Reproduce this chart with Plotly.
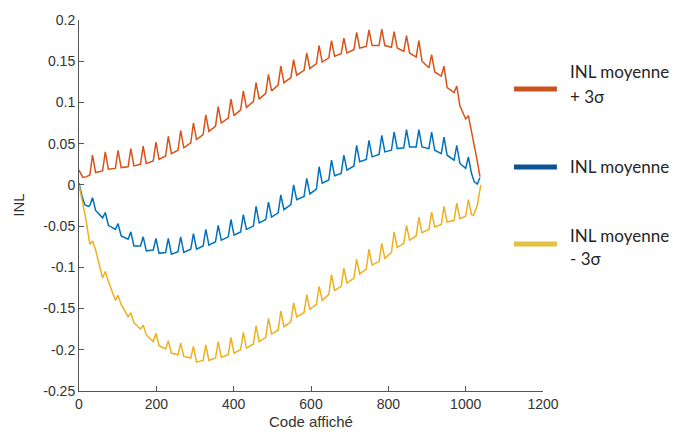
import plotly.graph_objects as go

# ---- data ----
PEAK_X = [35, 68, 101, 134, 166, 199, 231, 263, 296, 328, 360, 393, 425, 458, 490,
          522, 555, 589, 621, 653, 685, 718, 750, 783, 815, 847, 879, 912, 944, 977, 1007]

# INL moyenne + 3 sigma (orange)
UP_HEAD_X = [0, 10, 20]
UP_HEAD_Y = [0.018, 0.009, 0.010]
UP_PRE = [0.012, 0.017, 0.020, 0.022, 0.025, 0.029, 0.035, 0.042, 0.051, 0.061, 0.071,
          0.081, 0.091, 0.101, 0.111, 0.121, 0.130, 0.139, 0.147, 0.154, 0.159, 0.164,
          0.168, 0.169, 0.167, 0.162, 0.155, 0.142, 0.132, 0.112, 0.080]
UP_HI = [0.036, 0.040, 0.042, 0.044, 0.047, 0.052, 0.059, 0.066, 0.075, 0.085, 0.095,
         0.104, 0.114, 0.124, 0.134, 0.144, 0.152, 0.160, 0.169, 0.175, 0.178, 0.185,
         0.188, 0.189, 0.186, 0.181, 0.175, 0.158, 0.144, 0.120, 0.084]
UP_LO = [0.015, 0.019, 0.021, 0.023, 0.026, 0.031, 0.038, 0.045, 0.055, 0.065, 0.075,
         0.084, 0.094, 0.104, 0.114, 0.124, 0.133, 0.141, 0.149, 0.156, 0.160, 0.166,
         0.169, 0.169, 0.166, 0.160, 0.150, 0.137, 0.118, 0.096, 0.066]
UP_TAIL_X = [1028, 1037]
UP_TAIL_Y = [0.034, 0.010]

# INL moyenne (blue)
MID_HEAD_X = [0, 8, 15, 24]
MID_HEAD_Y = [0.002, -0.014, -0.024, -0.026]
MID_PRE = [-0.025, -0.040, -0.054, -0.066, -0.074, -0.079, -0.082, -0.081, -0.078, -0.074,
           -0.069, -0.063, -0.057, -0.050, -0.042, -0.034, -0.024, -0.014, -0.005, 0.006,
           0.014, 0.023, 0.031, 0.037, 0.042, 0.045, 0.046, 0.044, 0.038, 0.030, 0.020]
MID_HI = [-0.0155, -0.0335, -0.047, -0.057, -0.063, -0.065, -0.065, -0.063, -0.059, -0.054,
          -0.049, -0.042, -0.036, -0.026, -0.021, -0.012, 0.000, 0.008, 0.022, 0.030,
          0.036, 0.048, 0.054, 0.060, 0.064, 0.067, 0.067, 0.064, 0.058, 0.048, 0.034]
MID_LO = [-0.031, -0.049, -0.062, -0.074, -0.080, -0.083, -0.084, -0.082, -0.078, -0.073,
          -0.067, -0.061, -0.054, -0.046, -0.039, -0.030, -0.018, -0.011, 0.002, 0.011,
          0.018, 0.028, 0.034, 0.040, 0.044, 0.046, 0.046, 0.042, 0.036, 0.026, 0.014]
MID_TAIL_X = [1022, 1030, 1037]
MID_TAIL_Y = [0.004, 0.001, 0.009]

# INL moyenne - 3 sigma (yellow)
LOW_HEAD_X = [0, 8, 18]
LOW_HEAD_Y = [0.000, -0.020, -0.042]
LOW_PRE = [-0.072, -0.113, -0.140, -0.160, -0.175, -0.190, -0.199, -0.206, -0.210, -0.213,
           -0.210, -0.206, -0.200, -0.193, -0.185, -0.176, -0.166, -0.155, -0.145, -0.133,
           -0.123, -0.113, -0.102, -0.093, -0.082, -0.071, -0.062, -0.054, -0.048, -0.043,
           -0.038]
LOW_HI = [-0.068, -0.105, -0.134, -0.155, -0.170, -0.180, -0.189, -0.192, -0.196, -0.194,
          -0.190, -0.185, -0.179, -0.171, -0.162, -0.153, -0.143, -0.133, -0.123, -0.109,
          -0.101, -0.090, -0.078, -0.071, -0.057, -0.049, -0.039, -0.033, -0.026, -0.022,
          -0.018]
LOW_LO = [-0.079, -0.117, -0.145, -0.167, -0.182, -0.195, -0.204, -0.208, -0.215, -0.213,
          -0.209, -0.204, -0.198, -0.190, -0.181, -0.172, -0.160, -0.151, -0.140, -0.128,
          -0.119, -0.108, -0.097, -0.089, -0.076, -0.067, -0.058, -0.051, -0.045, -0.041,
          -0.036]
LOW_TAIL_X = [1020, 1030, 1036, 1039]
LOW_TAIL_Y = [-0.037, -0.025, -0.008, 0.000]

X_TICKS = [0, 200, 400, 600, 800, 1000, 1200]
Y_TICKS = [-0.25, -0.2, -0.15, -0.1, -0.05, 0, 0.05, 0.1, 0.15, 0.2]
Y_TICK_TEXT = ["-0.25", "-0.2", "-0.15", "-0.1", "-0.05", "0", "0.05", "0.1", "0.15", "0.2"]

LABELS = [("INL moyenne", "+ 3σ"), ("INL moyenne", None), ("INL moyenne", "- 3σ")]


def build(head_x, head_y, pre, hi, lo, tail_x, tail_y):
    xs, ys = list(head_x), list(head_y)
    for p, a, b, c in zip(PEAK_X, pre, hi, lo):
        xs += [p - 7, p, p + 8]
        ys += [a, b, c]
    xs += list(tail_x)
    ys += list(tail_y)
    return xs, ys


series = [
    (build(UP_HEAD_X, UP_HEAD_Y, UP_PRE, UP_HI, UP_LO, UP_TAIL_X, UP_TAIL_Y), "#D95319"),
    (build(MID_HEAD_X, MID_HEAD_Y, MID_PRE, MID_HI, MID_LO, MID_TAIL_X, MID_TAIL_Y), "#0072BD"),
    (build(LOW_HEAD_X, LOW_HEAD_Y, LOW_PRE, LOW_HI, LOW_LO, LOW_TAIL_X, LOW_TAIL_Y), "#EDB120"),
]

fig = go.Figure()
for (xs, ys), col in series:
    fig.add_trace(go.Scatter(x=xs, y=ys, mode="lines", line=dict(color=col, width=1.5),
                             showlegend=False, hoverinfo="skip"))

AX = "#555555"
fig.update_layout(
    width=673, height=432,
    margin=dict(l=79, r=130, t=15, b=41),
    paper_bgcolor="white", plot_bgcolor="white",
    font=dict(family="Liberation Sans, Arial, sans-serif", size=14, color="#333333"),
    xaxis=dict(range=[0, 1200], tickvals=X_TICKS, ticks="inside", ticklen=5,
               tickcolor=AX, showline=True, linecolor=AX, linewidth=1,
               showgrid=False, zeroline=False, fixedrange=True),
    yaxis=dict(range=[-0.25, 0.2], tickvals=Y_TICKS, ticktext=Y_TICK_TEXT,
               ticks="inside", ticklen=5, tickcolor=AX, showline=True, linecolor=AX,
               linewidth=1, showgrid=False, zeroline=False, fixedrange=True),
)

# axis titles
fig.add_annotation(text="Code affiché", xref="paper", yref="paper", x=0.5, y=-0.082,
                   xanchor="center", yanchor="middle", showarrow=False,
                   font=dict(size=15, color="#333333"))
fig.add_annotation(text="INL", xref="paper", yref="paper", x=-0.131, y=0.5,
                   xanchor="center", yanchor="middle", textangle=-90, showarrow=False,
                   font=dict(size=15, color="#333333"))

# legend (drawn manually to match the reference layout)
LEG_COLORS = ["#C9541F", "#0B5394", "#E2C143"]
sw_y = [0.814, 0.604, 0.396]
txt_y = [(0.862, 0.795), (0.604, None), (0.420, 0.356)]
LEG_FONT = dict(family="Lato, Open Sans, sans-serif", size=17, color="#262626")
for (l1, l2), c, sy, (ty1, ty2) in zip(LABELS, LEG_COLORS, sw_y, txt_y):
    fig.add_shape(type="line", xref="paper", yref="paper", x0=0.9375, x1=1.030,
                  y0=sy, y1=sy, line=dict(color=c, width=5))
    fig.add_annotation(text=l1, xref="paper", yref="paper", x=1.054, y=ty1,
                       xanchor="left", yanchor="middle", showarrow=False, font=LEG_FONT)
    if l2:
        fig.add_annotation(text=l2, xref="paper", yref="paper", x=1.054, y=ty2,
                           xanchor="left", yanchor="middle", showarrow=False, font=LEG_FONT)

fig.write_html("out.html", config={"displayModeBar": False},
               post_script="document.body.style.margin='0';document.body.style.overflow='hidden';")
